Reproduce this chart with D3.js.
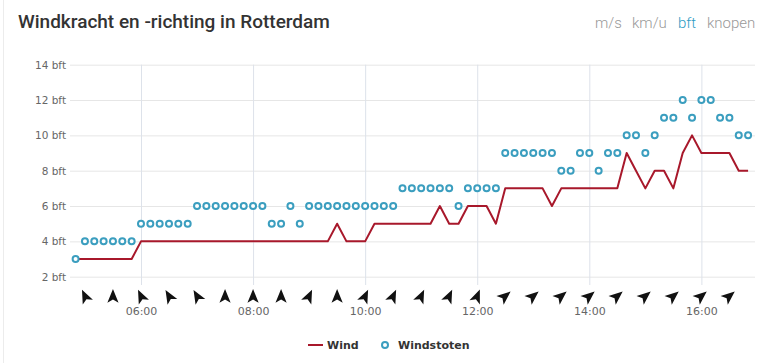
<!DOCTYPE html>
<html>
<head>
<meta charset="utf-8">
<script src="https://cdn.jsdelivr.net/npm/d3@7"></script>
<style>
  body { margin: 0; background: #fff; }
  svg { display: block; }
</style>
</head>
<body>
<div id="chart"></div>
<script>
// 10-minute measurements, 04:50 .. 16:50
var firstTime = "04:50";
var lastTime = "16:50";

var wind = [3,3,3,3,3,3,3,
  4,4,4,4,4,4, 4,4,4,4,4,4, 4,4,4,4,4,4,
  4,4,4,5,4,4, 4,5,5,5,5,5, 5,5,6,5,5,6,
  6,6,5,7,7,7, 7,7,6,7,7,7, 7,7,7,7,9,8,
  7,8,8,7,9,10, 9,9,9,9,8,8];

var gusts = [3,
  4,4,4,4,4,4, 5,5,5,5,5,5, 6,6,6,6,6,6,
  6,6,5,5,6,5, 6,6,6,6,6,6, 6,6,6,6,7,7,
  7,7,7,7,6,7, 7,7,7,9,9,9, 9,9,9,8,8,9,
  9,8,9,9,10,10, 9,10,11,11,12,11, 12,12,11,11,10,10];

// direction arrows every half hour, 05:00 .. 16:30 (rotation in degrees)
var arrowStart = "05:00";
var arrowEnd = "16:30";
var arrowAngles = [-25,0,-25,-30,-30,0,0,0,25,0,25,25,
  25,25,22,50,50,50,50,50,50,50,50,50];

var yTicks = [2,4,6,8,10,12,14];
var xTicks = ["06:00","08:00","10:00","12:00","14:00","16:00"];
var units = ["m/s","km/u","bft","knopen"];
var activeUnit = "bft";

var width = 768, height = 363;
var parse = d3.timeParse("%H:%M");
var fmt = d3.timeFormat("%H:%M");

var times = d3.timeMinute.every(10).range(parse(firstTime), d3.timeMinute.offset(parse(lastTime), 1));
var arrowTimes = d3.timeMinute.every(30).range(parse(arrowStart), d3.timeMinute.offset(parse(arrowEnd), 1));

var svg = d3.select("#chart").append("svg")
  .attr("width", width)
  .attr("height", height);

svg.append("rect").attr("width", width).attr("height", height).attr("fill", "#fff");
// faint card edge on the left
svg.append("line").attr("x1", 3.5).attr("x2", 3.5).attr("y1", 0).attr("y2", height)
  .attr("stroke", "#ececec");

var x = d3.scaleTime()
  .domain([parse("04:44"), d3.timeSecond.offset(parse("16:57"), 24)])
  .range([70, 755]);

var y = d3.scaleLinear()
  .domain([2, 14])
  .range([276.7, 64.7]);

// title + unit switch
svg.append("text")
  .attr("x", 18).attr("y", 28)
  .attr("font-family", "Roboto").attr("font-weight", 500)
  .attr("font-size", 19).attr("fill", "#333")
  .text("Windkracht en -richting in Rotterdam");

var unitX = [595, 632, 678, 707];
svg.selectAll(".unit").data(units).enter().append("text")
  .attr("class", "unit")
  .attr("x", function(d, i) { return unitX[i]; })
  .attr("y", 28)
  .attr("font-family", "Roboto").attr("font-weight", 300)
  .attr("font-size", 15)
  .attr("fill", function(d) { return d == activeUnit ? "#2f9bc4" : "#999"; })
  .text(function(d) { return d; });

// y grid + labels
var yAxis = svg.append("g")
  .attr("transform", "translate(70,0)")
  .call(d3.axisLeft(y).tickValues(yTicks).tickSize(-685).tickPadding(4)
    .tickFormat(function(d) { return d + " bft"; }));
yAxis.select(".domain").remove();
yAxis.selectAll("line").attr("stroke", "#e6e6e6");
yAxis.selectAll("text").attr("font-family", "DejaVu Sans").attr("font-size", 10.5).attr("fill", "#666");

// x grid (vertical lines extend a bit below the plot)
var xAxis = svg.append("g")
  .attr("transform", "translate(0,285)")
  .call(d3.axisBottom(x).tickValues(xTicks.map(parse)).tickSize(-220.3).tickPadding(22)
    .tickFormat(fmt));
xAxis.select(".domain").remove();
xAxis.selectAll("line").attr("stroke", "#dde2ea");
xAxis.selectAll("text").attr("font-family", "DejaVu Sans").attr("font-size", 11).attr("fill", "#666");

// wind line
var line = d3.line()
  .x(function(d, i) { return x(times[i]); })
  .y(function(d) { return y(d); });

svg.append("path")
  .datum(wind)
  .attr("d", line)
  .attr("fill", "none")
  .attr("stroke", "#a8182b")
  .attr("stroke-width", 2)
  .attr("stroke-linejoin", "round");

// gust markers
svg.selectAll(".gust").data(gusts).enter().append("circle")
  .attr("class", "gust")
  .attr("cx", function(d, i) { return x(times[i]); })
  .attr("cy", function(d) { return y(d); })
  .attr("r", 3)
  .attr("fill", "#fff")
  .attr("stroke", "#3b9ebf")
  .attr("stroke-width", 2);

// direction arrows
svg.selectAll(".dir").data(arrowAngles).enter().append("path")
  .attr("class", "dir")
  .attr("d", "M0,-7L5.6,6.8L0,3.6L-5.6,6.8Z")
  .attr("fill", "#111")
  .attr("transform", function(d, i) {
    return "translate(" + x(arrowTimes[i]) + ",296) rotate(" + d + ")";
  });

// legend
var legend = svg.append("g").attr("transform", "translate(0,345)");
legend.append("line").attr("x1", 308).attr("x2", 323).attr("y1", 0).attr("y2", 0)
  .attr("stroke", "#a8182b").attr("stroke-width", 2);
legend.append("text").attr("x", 327).attr("y", 4)
  .attr("font-family", "DejaVu Sans").attr("font-weight", "bold").attr("font-size", 11)
  .attr("fill", "#333").text("Wind");
legend.append("circle").attr("cx", 385).attr("cy", 0).attr("r", 3)
  .attr("fill", "#fff").attr("stroke", "#3b9ebf").attr("stroke-width", 2);
legend.append("text").attr("x", 398).attr("y", 4)
  .attr("font-family", "DejaVu Sans").attr("font-weight", "bold").attr("font-size", 11)
  .attr("fill", "#333").text("Windstoten");
</script>
</body>
</html>
